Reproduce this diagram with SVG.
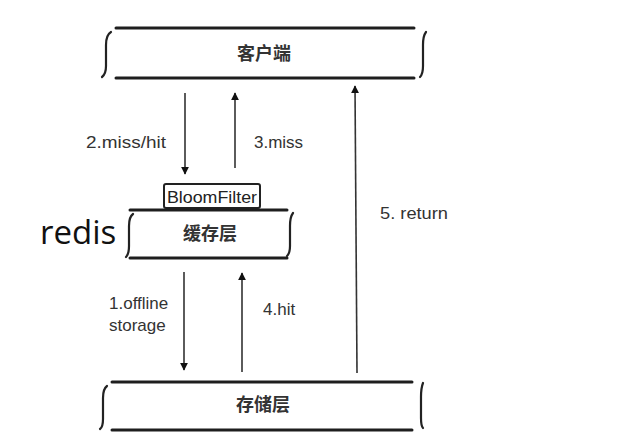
<svg xmlns="http://www.w3.org/2000/svg" width="630" height="444" viewBox="0 0 630 444">
<defs>
<marker id="ah" viewBox="0 0 10 10" refX="9" refY="5" markerWidth="8" markerHeight="9" markerUnits="userSpaceOnUse" orient="auto"><path d="M0,0 L10,5 L0,10 z" fill="#111"/></marker>
<style>
.bar{stroke:#1e1e1e;stroke-width:3;fill:none;stroke-linecap:round}
.br{stroke:#222;stroke-width:2.2;fill:none;stroke-linecap:round}
.cn{font-family:"Noto Sans CJK SC","Noto Sans CJK JP",serif;font-size:18px;font-weight:bold;fill:#333;text-anchor:middle}
.lb{font-family:"Liberation Sans",Arial,sans-serif;font-size:17px;fill:#333}
.ar{stroke:#333;stroke-width:1.6;fill:none;marker-end:url(#ah)}
</style>
</defs>
<rect width="630" height="444" fill="#fff"/>
<g id="client">
<line class="bar" x1="116" y1="28" x2="414" y2="28"/>
<line class="bar" x1="116" y1="78" x2="414" y2="78"/>
<path class="br" d="M111 32 Q106 35 106 45 L106 66 Q106 74 102 77"/>
<path class="br" d="M426 32 Q423 36 423 45 L423 66 Q423 74 420 77"/>
<text class="cn" x="264" y="60">客户端</text>
</g>
<g id="cache">
<rect x="164" y="184" width="96" height="24" rx="2" fill="#fff" stroke="#222" stroke-width="2"/>
<text x="212" y="203" text-anchor="middle" font-family="'Liberation Sans',Arial,sans-serif" font-size="16.5" fill="#222" textLength="90" lengthAdjust="spacingAndGlyphs">BloomFilter</text>
<line class="bar" x1="130" y1="210" x2="287" y2="210"/>
<line class="bar" x1="130" y1="258" x2="287" y2="258"/>
<path class="br" d="M133 214 Q129 217 129 226 L129 246 Q129 254 126 257"/>
<path class="br" d="M293 213 Q290 217 290 226 L290 246 Q290 253 287 256"/>
<text class="cn" x="210" y="240">缓存层</text>
<text x="40" y="244" font-family="'Open Sans','Noto Sans',sans-serif" font-size="33" fill="#111">redis</text>
</g>
<g id="storage">
<line class="bar" x1="112" y1="382" x2="412" y2="382"/>
<line class="bar" x1="112" y1="430" x2="412" y2="430"/>
<path class="br" d="M107 386 Q103 389 103 398 L103 419 Q103 427 100 429"/>
<path class="br" d="M423 383 Q421 388 421 397 L421 418 Q421 426 423 428"/>
<text class="cn" x="263" y="411">存储层</text>
</g>
<g id="connectors">
<line class="ar" x1="185" y1="93" x2="185" y2="174"/>
<line class="ar" x1="235" y1="168" x2="235" y2="93"/>
<line class="ar" x1="184" y1="272" x2="184" y2="370"/>
<line class="ar" x1="242" y1="372" x2="242" y2="273"/>
<line class="ar" x1="357" y1="373" x2="355" y2="86"/>
<text class="lb" x="86" y="148" textLength="80" lengthAdjust="spacingAndGlyphs">2.miss/hit</text>
<text class="lb" x="254" y="148">3.miss</text>
<text class="lb" x="109" y="309">1.offline</text>
<text class="lb" x="109" y="331">storage</text>
<text class="lb" x="263" y="315">4.hit</text>
<text class="lb" x="380" y="219" textLength="68" lengthAdjust="spacingAndGlyphs">5. return</text>
</g>
</svg>
